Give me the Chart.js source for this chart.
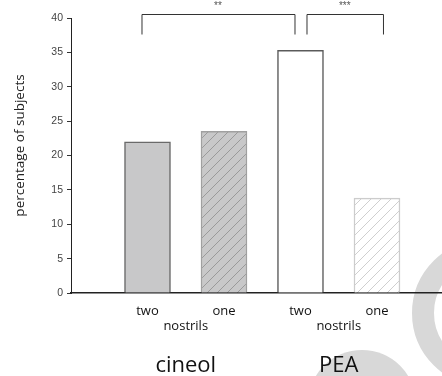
<!DOCTYPE html>
<html>
<head>
<meta charset="utf-8">
<script src="https://cdn.jsdelivr.net/npm/chart.js@4.4.0/dist/chart.umd.min.js"></script>
<style>
  html, body { margin: 0; padding: 0; background: #fff; }
  #wrap { width: 442px; height: 376px; }
</style>
</head>
<body>
<div id="wrap"><canvas id="grafico"></canvas></div>
<script>
// datos
const barLabels = ["two", "one", "two", "one"];
const groupLabels = ["cineol", "PEA"];
const subLabel = "nostrils";
const values = [22, 23.5, 35.3, 13.8];
const yTitle = "percentage of subjects";
const yMax = 40;
const yStep = 5;
const comparisons = [
  { from: 0, to: 2, label: "**" },
  { from: 2, to: 3, label: "***" }
];

function hatch(bg, line) {
  const s = 10;
  const c = document.createElement("canvas");
  c.width = s; c.height = s;
  const g = c.getContext("2d");
  g.fillStyle = bg;
  g.fillRect(0, 0, s, s);
  g.strokeStyle = line;
  g.lineWidth = 1;
  g.beginPath();
  g.moveTo(-1, s + 1); g.lineTo(s + 1, -1);
  g.moveTo(-2, 2); g.lineTo(2, -2);
  g.moveTo(s - 2, s + 2); g.lineTo(s + 2, s - 2);
  g.stroke();
  return document.createElement("canvas").getContext("2d").createPattern(c, "repeat");
}

const fills = ["#c8c8c9", hatch("#c8c8c9", "#9a9a9a"), "#ffffff", hatch("#ffffff", "#cfcfcf")];
const borders = ["#6a6a6a", "#a0a0a0", "#5a5a5a", "#cccccc"];

// fondo decorativo (anillos grises)
const fondo = {
  id: "fondo",
  beforeDraw(chart) {
    const ctx = chart.ctx;
    ctx.save();
    ctx.fillStyle = "#d8d8d8";
    ctx.strokeStyle = "#d8d8d8";
    ctx.lineWidth = 22;
    ctx.beginPath();
    ctx.arc(486, 313, 63, 0, Math.PI * 2);
    ctx.stroke();
    ctx.beginPath();
    ctx.arc(362, 404, 54, 0, Math.PI * 2);
    ctx.fill();
    ctx.restore();
  }
};

// corchetes de significancia y titulo del eje y
const extras = {
  id: "extras",
  afterDraw(chart) {
    const ctx = chart.ctx;
    const x = chart.scales.x;
    const y = chart.scales.y;
    const shifts = [-6, 6];
    ctx.save();
    ctx.strokeStyle = "#333";
    ctx.lineWidth = 1;
    comparisons.forEach((c, i) => {
      const x1 = x.getPixelForValue(c.from + 1) + shifts[i];
      const x2 = x.getPixelForValue(c.to + 1) + shifts[i];
      const top = Math.round(y.getPixelForValue(40.6)) + 0.5;
      const leg = y.getPixelForValue(37.6);
      ctx.beginPath();
      ctx.moveTo(x1 + 0.5, leg);
      ctx.lineTo(x1 + 0.5, top);
      ctx.lineTo(x2 + 0.5, top);
      ctx.lineTo(x2 + 0.5, leg);
      ctx.stroke();
      ctx.fillStyle = "#555";
      ctx.font = "10px 'Liberation Sans'";
      ctx.textAlign = "center";
      ctx.textBaseline = "middle";
      ctx.fillText(c.label, (x1 + x2) / 2, top - 8);
    });
    ctx.translate(20, (y.top + y.bottom) / 2 - 10);
    ctx.rotate(-Math.PI / 2);
    ctx.fillStyle = "#222";
    ctx.font = "13.5px 'Open Sans'";
    ctx.textAlign = "center";
    ctx.textBaseline = "middle";
    ctx.fillText(yTitle, 0, 0);
    ctx.restore();
  }
};

const xMax = barLabels.length + 0.85;
const barTicks = [];
const groupTicks = [];
groupLabels.forEach((g, i) => {
  barTicks.push(2 * i + 1, 2 * i + 1.5, 2 * i + 2);
  groupTicks.push(2 * i + 1.5);
});

new Chart(document.getElementById("grafico"), {
  type: "bar",
  data: {
    datasets: [{
      data: values.map((v, i) => ({ x: i + 1, y: v })),
      backgroundColor: fills,
      borderColor: borders,
      borderWidth: 1.5,
      barThickness: 46
    }]
  },
  options: {
    responsive: true,
    maintainAspectRatio: false,
    animation: false,
    layout: { padding: { top: 18, right: 0, bottom: 0, left: 0 } },
    plugins: { legend: { display: false }, tooltip: { enabled: false } },
    scales: {
      x: {
        type: "linear",
        offset: false,
        min: 0,
        max: xMax,
        afterFit(scale) { scale.height = 41; },
        grid: { display: false, drawTicks: false },
        border: { display: true, color: "#222", width: 1.5 },
        afterBuildTicks(scale) { scale.ticks = barTicks.map(v => ({ value: v })); },
        ticks: {
          padding: 11,
          color: "#111",
          maxRotation: 0,
          autoSkip: false,
          font: { family: "'Open Sans'", size: 13, lineHeight: 1.15 },
          callback(v) {
            if (Number.isInteger(v)) return barLabels[v - 1];
            return ["", subLabel];
          }
        }
      },
      x2: {
        type: "linear",
        position: "bottom",
        offset: false,
        min: 0,
        max: xMax,
        afterFit(scale) { scale.height = 42; },
        grid: { display: false, drawTicks: false },
        border: { display: false },
        afterBuildTicks(scale) { scale.ticks = groupTicks.map(v => ({ value: v })); },
        ticks: {
          padding: 21,
          color: "#111",
          maxRotation: 0,
          autoSkip: false,
          font: { family: "'Open Sans'", size: 22, lineHeight: 1 },
          callback(v) { return groupLabels[(v - 1.5) / 2]; }
        }
      },
      y: {
        min: 0,
        max: yMax,
        afterFit(scale) { scale.width = 71; },
        grid: { drawOnChartArea: false, drawTicks: true, tickLength: 4, color: "#333" },
        border: { display: true, color: "#222", width: 1 },
        ticks: {
          stepSize: yStep,
          padding: 4,
          color: "#444",
          font: { family: "'Liberation Sans'", size: 10.5 }
        }
      }
    }
  },
  plugins: [fondo, extras]
});
</script>
</body>
</html>
